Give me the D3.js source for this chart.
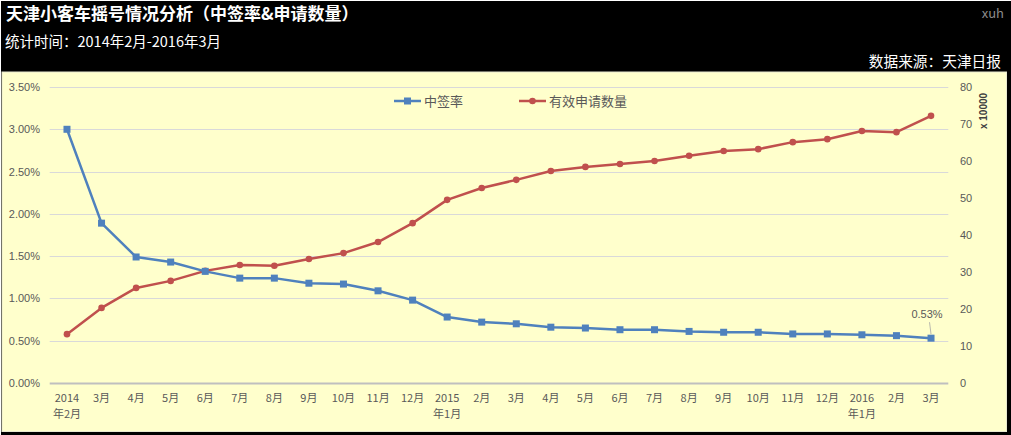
<!DOCTYPE html>
<html><head><meta charset="utf-8">
<script src="https://cdn.jsdelivr.net/npm/d3@7"></script>
<style>
html,body{margin:0;padding:0;background:#000;}
svg{display:block;font-family:"Noto Sans CJK SC","Noto Sans",sans-serif;}
</style></head>
<body><svg id="c" width="1011" height="435"></svg>
<script>
const months = ["2014\n年2月","3月","4月","5月","6月","7月","8月","9月","10月","11月","12月","2015\n年1月","2月","3月","4月","5月","6月","7月","8月","9月","10月","11月","12月","2016\n年1月","2月","3月"];
const rateValues = [3.00,1.89,1.49,1.43,1.32,1.24,1.24,1.18,1.17,1.09,0.98,0.78,0.72,0.70,0.66,0.65,0.63,0.63,0.61,0.60,0.60,0.58,0.58,0.57,0.56,0.53];
const applyValues = [13.2,20.3,25.7,27.6,30.3,31.9,31.7,33.5,35.1,38.1,43.2,49.5,52.7,54.9,57.3,58.4,59.2,60.0,61.4,62.7,63.2,65.1,65.9,68.1,67.8,72.2];
const leftTicks = [0,0.5,1.0,1.5,2.0,2.5,3.0,3.5];
const rightTicks = [0,10,20,30,40,50,60,70,80];
const seriesNames = ["中签率","有效申请数量"];

const svg = d3.select("#c");
const W=1011,H=435;
// frame
svg.append("rect").attr("x",0).attr("y",0).attr("width",W).attr("height",H).attr("fill","#000");
svg.append("line").attr("x1",0).attr("y1",0.5).attr("x2",W).attr("y2",0.5).attr("stroke","#fff");
svg.append("line").attr("x1",0.5).attr("y1",0).attr("x2",0.5).attr("y2",H).attr("stroke","#fff");
svg.append("rect").attr("x",2).attr("y",72).attr("width",1004.5).attr("height",359.5).attr("fill","#ffffcc").attr("stroke","#e8e8d0").attr("stroke-width",1);

// header
svg.append("text").attr("x",6).attr("y",20).attr("fill","#fff").attr("font-size",17).attr("font-weight","bold").text("天津小客车摇号情况分析（中签率&申请数量）");
svg.append("text").attr("x",5).attr("y",47).attr("fill","#fff").attr("font-size",14.5).text("统计时间：2014年2月-2016年3月");
svg.append("text").attr("x",1004).attr("y",18).attr("fill","#8c8c8c").attr("font-size",13).attr("text-anchor","end").text("xuh");
svg.append("text").attr("x",1001).attr("y",67).attr("fill","#fff").attr("font-size",14.7).attr("text-anchor","end").text("数据来源：天津日报");

const x = d3.scaleBand().domain(d3.range(months.length)).range([49.7,948.3]);
const cx = i => x(i)+x.bandwidth()/2;
const yL = d3.scaleLinear().domain([0,3.5]).range([383,87]);
const yR = d3.scaleLinear().domain([0,80]).range([383,87]);

const g = svg.append("g");
// gridlines
g.selectAll(".grid").data(leftTicks.filter(d=>d>0)).enter().append("line")
 .attr("x1",49.7).attr("x2",948.3).attr("y1",d=>Math.round(yL(d))+0.5).attr("y2",d=>Math.round(yL(d))+0.5)
 .attr("stroke","#d9d9d9").attr("stroke-width",1);
g.append("line").attr("x1",49.7).attr("x2",948.3).attr("y1",383.5).attr("y2",383.5).attr("stroke","#bfbfbf").attr("stroke-width",2);

const labColor="#595959";
// left axis
const la = svg.append("g").attr("transform","translate(40,0)")
 .call(d3.axisLeft(yL).tickValues(leftTicks).tickSize(0).tickPadding(0).tickFormat(d=>d3.format(".2f")(d)+"%"));
la.select(".domain").remove();
la.selectAll("text").attr("fill",labColor).attr("font-size",11).attr("font-family","'Liberation Sans',sans-serif");
// right axis
const ra = svg.append("g").attr("transform","translate(960,0)")
 .call(d3.axisRight(yR).tickValues(rightTicks).tickSize(0).tickPadding(0));
ra.select(".domain").remove();
ra.selectAll("text").attr("fill",labColor).attr("font-size",11).attr("font-family","'Liberation Sans',sans-serif");
svg.append("text").attr("transform","translate(987,111) rotate(-90)").attr("text-anchor","middle")
 .attr("fill","#404040").attr("font-size",10).attr("font-weight","bold").attr("font-family","'Liberation Sans',sans-serif").text("x 10000");

// x labels
const xl = svg.append("g").attr("transform","translate(0,383)")
 .call(d3.axisBottom(x).tickSize(0).tickFormat(()=>""));
xl.select(".domain").remove();
xl.selectAll(".tick text").remove();
months.forEach((m,i)=>{
  const parts=m.split("\n");
  parts.forEach((p,j)=>{
    svg.append("text").attr("x",cx(i)).attr("y",402+j*16).attr("text-anchor","middle")
      .attr("fill",labColor).attr("font-size",11).text(p);
  });
});

const blue="#4f81bd", red="#c0504d";
// lines
svg.append("path").datum(applyValues).attr("fill","none").attr("stroke",red).attr("stroke-width",2.5).attr("stroke-linejoin","round")
 .attr("d",d3.line().x((d,i)=>cx(i)).y(d=>yR(d)));
svg.append("path").datum(rateValues).attr("fill","none").attr("stroke",blue).attr("stroke-width",2.5).attr("stroke-linejoin","round")
 .attr("d",d3.line().x((d,i)=>cx(i)).y(d=>yL(d)));
svg.selectAll(".rm").data(applyValues).enter().append("circle").attr("cx",(d,i)=>cx(i)).attr("cy",d=>yR(d)).attr("r",3.3).attr("fill",red);
svg.selectAll(".bm").data(rateValues).enter().append("rect").attr("x",(d,i)=>cx(i)-3.5).attr("y",d=>yL(d)-3.5).attr("width",7).attr("height",7).attr("fill",blue);

// annotation
const li = rateValues.length-1;
svg.append("line").attr("x1",cx(li)-1.5).attr("y1",yL(rateValues[li])-16).attr("x2",cx(li)).attr("y2",yL(rateValues[li])-4).attr("stroke","#a6a6a6").attr("stroke-width",0.8);
svg.append("text").attr("x",cx(li)-4).attr("y",yL(rateValues[li])-20).attr("text-anchor","middle").attr("fill",labColor).attr("font-size",11).attr("font-family","'Liberation Sans',sans-serif").text(d3.format(".2f")(rateValues[li])+"%");

// legend
const lg = svg.append("g");
lg.append("line").attr("x1",394).attr("x2",421).attr("y1",101).attr("y2",101).attr("stroke",blue).attr("stroke-width",2.5);
lg.append("rect").attr("x",404).attr("y",97.5).attr("width",7).attr("height",7).attr("fill",blue);
lg.append("text").attr("x",424).attr("y",106).attr("fill",labColor).attr("font-size",13).text(seriesNames[0]);
lg.append("line").attr("x1",519).attr("x2",546).attr("y1",101).attr("y2",101).attr("stroke",red).attr("stroke-width",2.5);
lg.append("circle").attr("cx",532.5).attr("cy",101).attr("r",3.3).attr("fill",red);
lg.append("text").attr("x",549).attr("y",106).attr("fill",labColor).attr("font-size",13).text(seriesNames[1]);
</script></body></html>
